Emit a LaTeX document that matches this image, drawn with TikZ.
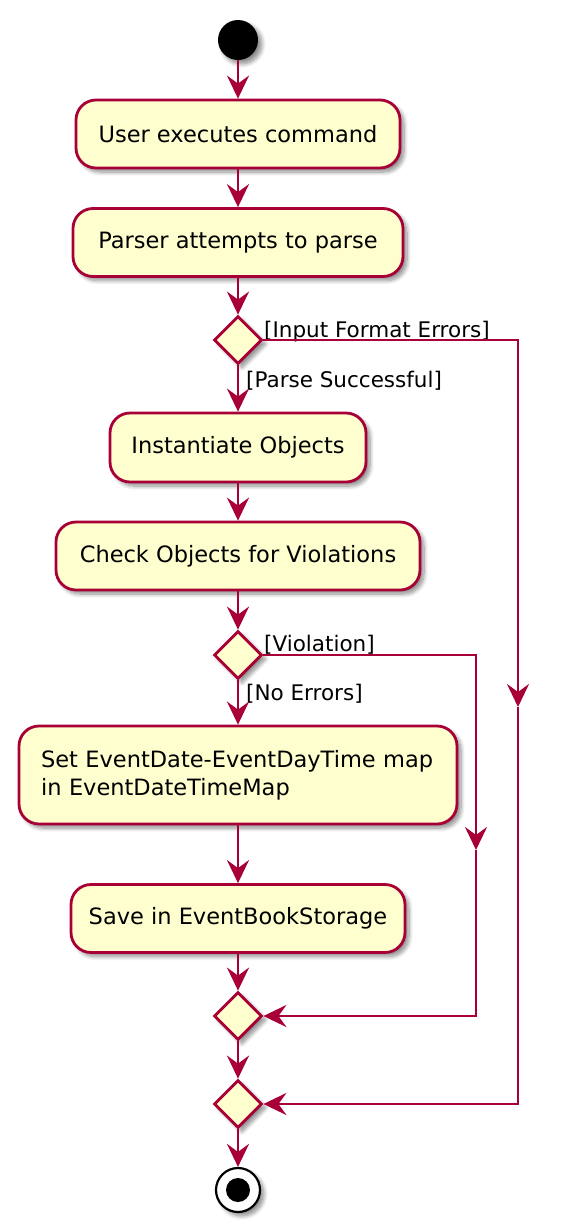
\documentclass[tikz,border=0pt]{standalone}
\usepackage{fontspec}
\setmainfont{DejaVu Sans}
\usetikzlibrary{arrows.meta,shadows,shadows.blur,shapes.geometric}
\definecolor{pbord}{HTML}{A80036}
\definecolor{pfill}{HTML}{FEFECE}
\begin{document}
\begin{tikzpicture}[x=1pt,y=-1pt,
  shad/.style={blur shadow={shadow xshift=4pt,shadow yshift=-4pt,shadow blur radius=4pt,shadow blur steps=8,shadow opacity=45}},
  act/.style={draw=pbord, fill=pfill, line width=2.8pt, rounded corners=20pt,
    minimum height=68pt, inner sep=0pt, font=\fontsize{22.5pt}{28pt}\selectfont, shad},
  dec/.style={diamond, draw=pbord, fill=pfill, line width=2.8pt, minimum width=48pt,
    minimum height=48pt, inner sep=0pt, shad},
  flow/.style={draw=pbord, line width=2.8pt, -{Stealth[length=23pt,width=22pt,inset=8pt]}},
  lbl/.style={font=\fontsize{21.5pt}{26pt}\selectfont, anchor=base west, inner sep=0pt}]
\useasboundingbox (0,0) rectangle (568,1232);
\node[circle, fill=black, minimum size=40pt, inner sep=0pt, shad] (start) at (238,40) {};
\node[act, minimum width=324pt] (a1) at (238,134) {User executes command};
\node[act, minimum width=330pt] (a2) at (238,242.5) {Parser attempts to parse};
\node[dec] (d1) at (238,340) {};
\node[act, minimum width=256pt, minimum height=69pt] (a3) at (238,447.5) {Instantiate Objects};
\node[act, minimum width=364pt] (a4) at (238,556) {Check Objects for Violations};
\node[dec] (d2) at (238,655) {};
\node[act, minimum width=438pt, minimum height=98pt, text width=394pt, align=left] (a5) at (238,775) {Set EventDate-EventDayTime map\\in EventDateTimeMap};
\node[act, minimum width=334pt] (a6) at (238,918.5) {Save in EventBookStorage};
\node[dec] (d3) at (238,1016) {};
\node[dec] (d4) at (238,1104) {};
\node[circle, draw=black, line width=2.2pt, fill=white, minimum size=44pt, inner sep=0pt, shad] (end) at (238,1190) {};
\fill[black] (end.center) circle (12pt);
\node[lbl] (l1) at (264,337) {[Input Format Errors]};
\node[lbl] (l2) at (246,387) {[Parse Successful]};
\node[lbl] (l3) at (264,651) {[Violation]};
\node[lbl] (l4) at (246,700) {[No Errors]};
\coordinate (m1) at (518,707);
\coordinate (m2) at (476,850);
\draw[flow] (start) -- (a1);
\draw[flow] (a1) -- (a2);
\draw[flow] (a2) -- (d1);
\draw[flow] (d1) -- (a3);
\draw[flow] (a3) -- (a4);
\draw[flow] (a4) -- (d2);
\draw[flow] (d2) -- (a5);
\draw[flow] (a5) -- (a6);
\draw[flow] (a6) -- (d3);
\draw[flow] (d3) -- (d4);
\draw[flow] (d4) -- (end);
\draw[flow] (d1.east) -| (m1);
\draw[flow] (m1) |- (d4.east);
\draw[flow] (d2.east) -| (m2);
\draw[flow] (m2) |- (d3.east);
\end{tikzpicture}
\end{document}
